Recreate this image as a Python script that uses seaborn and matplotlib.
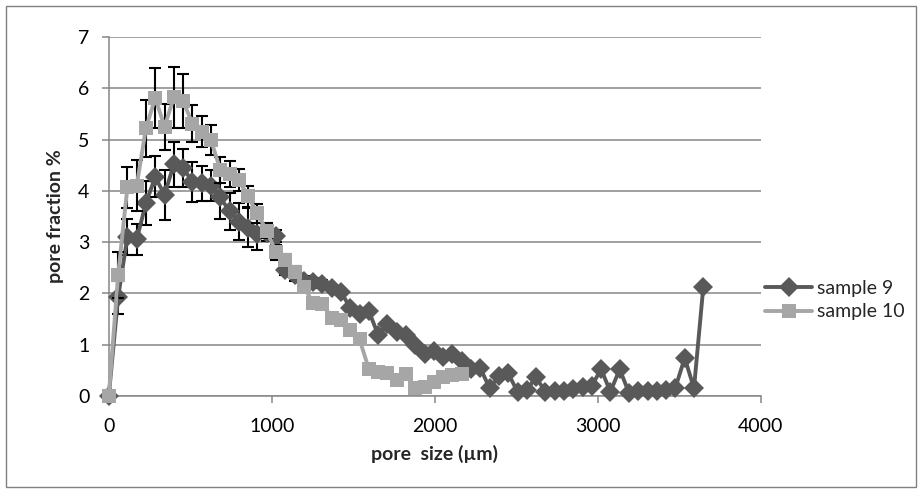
import numpy as np
import pandas as pd
import seaborn as sns
import matplotlib
matplotlib.use("Agg")
import matplotlib.pyplot as plt
from matplotlib.patches import Rectangle

# pore size classes (µm)
size_9 = [0, 57, 114, 171, 228, 285, 342, 399, 456, 513, 570, 627, 684, 741, 798,
          855, 912, 969, 1026, 1083, 1140, 1197, 1254, 1311, 1368, 1425, 1482, 1539,
          1596, 1653, 1710, 1767, 1824, 1881, 1938, 1995, 2052, 2109, 2166, 2223,
          2280, 2337, 2394, 2451, 2508, 2565, 2622, 2679, 2736, 2793, 2850, 2907,
          2964, 3021, 3078, 3135, 3192, 3249, 3306, 3363, 3420, 3477, 3534, 3591, 3648]
frac_9 = [0, 1.92, 3.10, 3.05, 3.76, 4.27, 3.92, 4.52, 4.44, 4.18, 4.15, 4.10, 3.87,
          3.60, 3.40, 3.28, 3.15, 3.17, 3.12, 2.45, 2.35, 2.25, 2.22, 2.18, 2.10, 2.03,
          1.71, 1.60, 1.65, 1.19, 1.40, 1.25, 1.19, 0.99, 0.82, 0.88, 0.75, 0.82, 0.68,
          0.52, 0.54, 0.15, 0.38, 0.44, 0.08, 0.12, 0.36, 0.08, 0.10, 0.10, 0.14, 0.18,
          0.20, 0.52, 0.08, 0.52, 0.06, 0.10, 0.10, 0.10, 0.12, 0.16, 0.74, 0.15, 2.12]
err_9 = [0, 0.32, 0.35, 0.30, 0.43, 0.40, 0.48, 0.44, 0.37, 0.39, 0.34, 0.30, 0.42,
         0.36, 0.36, 0.38, 0.30, 0.15, 0.12, 0.10, 0.10, 0.08, 0.08, 0.08, 0.06, 0.06,
         0.05, 0.05, 0.05, 0.04, 0.04, 0.04, 0.03, 0.03, 0.03, 0.03, 0.03, 0.03, 0.03,
         0.02, 0.02, 0.02, 0.02, 0.02, 0.02, 0.02, 0.02, 0.02, 0.02, 0.02, 0.02, 0.02,
         0.02, 0.02, 0.02, 0.02, 0.02, 0.02, 0.02, 0.02, 0.02, 0.02, 0.02, 0.02, 0.02]

size_10 = [0, 57, 114, 171, 228, 285, 342, 399, 456, 513, 570, 627, 684, 741, 798,
           855, 912, 969, 1026, 1083, 1140, 1197, 1254, 1311, 1368, 1425, 1482, 1539,
           1596, 1653, 1710, 1767, 1824, 1881, 1938, 1995, 2052, 2109, 2166]
frac_10 = [0, 2.35, 4.07, 4.10, 5.22, 5.81, 5.25, 5.82, 5.75, 5.31, 5.15, 4.99, 4.41,
           4.33, 4.21, 3.89, 3.56, 3.22, 2.80, 2.65, 2.42, 2.13, 1.81, 1.80, 1.52, 1.48,
           1.29, 1.10, 0.52, 0.46, 0.45, 0.30, 0.42, 0.16, 0.17, 0.28, 0.36, 0.40, 0.42]
err_10 = [0, 0.45, 0.40, 0.50, 0.56, 0.58, 0.45, 0.59, 0.53, 0.36, 0.30, 0.30, 0.25,
          0.25, 0.22, 0.20, 0.18, 0.15, 0.15, 0.12, 0.12, 0.10, 0.08, 0.08, 0.06, 0.06,
          0.05, 0.05, 0.04, 0.04, 0.04, 0.03, 0.03, 0.03, 0.03, 0.03, 0.03, 0.03, 0.03]

labels = ["sample 9", "sample 10"]
colors = ["#595959", "#A6A6A6"]
markers = ["D", "s"]
marker_sizes = [10.5, 10]

df = pd.concat([
    pd.DataFrame({"size": size_9, "frac": frac_9, "err": err_9, "sample": labels[0]}),
    pd.DataFrame({"size": size_10, "frac": frac_10, "err": err_10, "sample": labels[1]}),
], ignore_index=True)

sns.set_theme(style="white")
plt.rcParams["font.family"] = ["Lato", "DejaVu Sans"]

fig = plt.figure(figsize=(9.22, 4.93), dpi=100)
ax = fig.add_axes([0.118, 0.197, 0.707, 0.728])

# chart frame
fig.patches.append(Rectangle((0.007, 0.012), 0.986, 0.976, transform=fig.transFigure,
                             fill=False, edgecolor="#808080", linewidth=1.0))

ax.yaxis.grid(True, color="#868686", linewidth=1.1, zorder=0)
ax.set_axisbelow(True)

for i, (lab, col, mk, ms) in enumerate(zip(labels, colors, markers, marker_sizes)):
    sub = df[df["sample"] == lab]
    ax.errorbar(sub["size"], sub["frac"], yerr=sub["err"], fmt="none",
                ecolor="black", elinewidth=1.5, capsize=4.5, capthick=1.5,
                zorder=2 + 2 * i, clip_on=False)
    sns.lineplot(data=sub, x="size", y="frac", ax=ax, color=col, marker=mk,
                 markersize=ms, markeredgewidth=0,
                 linewidth=2.8, sort=False, errorbar=None, label=lab,
                 zorder=3 + 2 * i, clip_on=False)

ax.set_xlim(0, 4000)
ax.set_ylim(0, 7)
ax.set_xticks([0, 1000, 2000, 3000, 4000])
ax.set_yticks(range(0, 8))

for s in ["top", "right"]:
    ax.spines[s].set_visible(False)
for s in ["left", "bottom"]:
    ax.spines[s].set_color("#868686")
    ax.spines[s].set_linewidth(1.1)

ax.tick_params(axis="both", which="major", direction="out", length=5, width=1.1,
               color="#868686", labelsize=14, labelcolor="black")
ax.tick_params(axis="x", pad=11)
ax.tick_params(axis="y", pad=9)
ax.xaxis.set_ticks_position("bottom")
ax.yaxis.set_ticks_position("left")

ax.set_xlabel("pore  size (µm)", fontsize=14, fontweight="bold", labelpad=7)
ax.set_ylabel("pore fraction %", fontsize=14, fontweight="bold", labelpad=10)

ax.legend(loc="center left", bbox_to_anchor=(0.995, 0.267), frameon=False,
          fontsize=14, handlelength=2.4, handletextpad=0.25, labelspacing=0.35,
          borderaxespad=0)

fig.savefig("out.png", dpi=100)
